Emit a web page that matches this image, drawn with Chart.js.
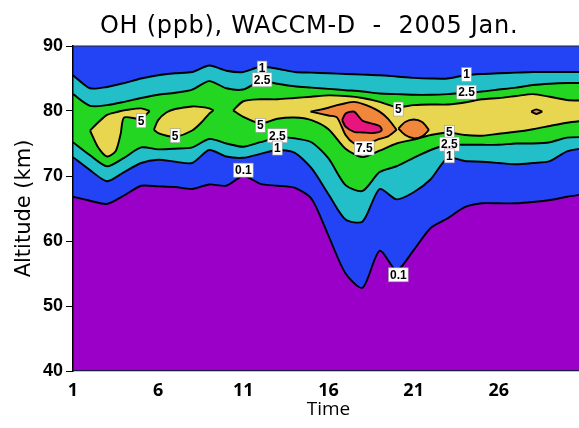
<!DOCTYPE html>
<html>
<head>
<meta charset="utf-8">
<script src="https://cdn.jsdelivr.net/npm/chart.js"></script>
<style>
html, body { margin: 0; padding: 0; background: #fff; overflow: hidden; }
#wrap { width: 584px; height: 428px; }
</style>
</head>
<body>
<div id="wrap"><canvas id="chart" width="584" height="428"></canvas></div>
<script>
const titleText = "OH (ppb), WACCM-D  -  2005 Jan.";
const timeTicks = [1, 6, 11, 16, 21, 26];

const days = [1,2,3,4,5,6,7,8,9,10,11,12,13,14,15,16,17,18,19,20,21,22,23,24,25,26,27,28,29,30,31];

// 0.1 ppb contour (top of the purple)
const oh01Low = [66.8,66.2,65.7,67.0,68.5,68.4,68.3,68.0,68.7,68.5,70.0,68.8,68.5,68.2,66.5,60.8,55.0,52.8,58.5,55.5,58.6,62.0,63.5,65.2,65.8,65.8,65.8,66.0,66.3,66.8,67.2];
// 1 ppb contours
const oh1Low = [72.9,70.9,69.2,70.6,72.0,72.5,72.2,72.0,74.0,73.0,72.8,73.4,74.0,73.6,71.2,67.2,63.3,63.0,68.0,66.4,67.5,69.5,72.8,72.3,72.2,72.0,71.8,72.0,72.3,73.8,74.3];
const oh1Up = [85.5,83.5,83.7,84.3,85.0,85.5,85.8,86.0,87.0,86.2,86.0,86.8,86.5,86.0,85.9,85.8,85.7,85.6,85.5,85.3,85.1,85.0,85.0,85.5,85.7,85.8,85.9,86.0,86.0,86.0,86.0];
// 2.5 ppb contours
const oh25Low = [75.2,73.2,71.5,72.8,74.4,74.1,74.2,74.4,75.7,75.0,74.5,75.2,75.9,75.8,75.2,72.7,68.6,67.7,70.6,71.5,72.8,74.0,74.8,74.8,74.8,74.8,75.0,75.0,75.2,75.9,76.0];
const oh25Up = [82.6,80.8,80.9,81.4,82.0,82.5,82.8,83.3,84.6,83.5,83.3,84.6,84.2,83.8,83.6,83.4,83.2,83.0,82.7,82.6,82.5,82.5,82.6,82.8,83.0,83.3,83.6,84.0,84.2,84.3,84.3];

// 5 ppb contours
const isl1Day = [2.0,2.5,3,3.5,3.8,4,5,5.5];
const isl1Low = [77.0,74.3,73.0,73.8,76.5,79.0,78.8,80.0];
const isl1Up = [77.0,78.3,79.4,79.8,80.0,80.1,80.4,80.0];

const isl2Day = [5.75,6,6.5,7,8,8.6,9,9.25];
const isl2Low = [77.1,76.6,76.2,76.0,77.0,78.4,79.6,80.1];
const isl2Up = [77.1,78.6,79.8,80.3,80.7,80.6,80.4,80.1];

const band5Day = [10.4,11,12,13,14,15,16,17,18,19,20,21,22,23,24,25,26,27,28,29,30,31];
const band5Low = [80.1,79.1,78.1,78.8,79.0,78.6,77.2,74.2,72.9,73.9,75.0,75.6,76.3,76.7,76.3,76.2,76.5,76.8,77.2,77.7,78.2,78.5];
const band5Up = [80.1,81.5,81.8,81.8,82.0,82.2,82.4,82.3,82.0,81.4,80.6,80.9,81.0,81.0,81.3,81.8,82.0,82.3,82.6,82.2,81.7,81.6];

// 7.5 ppb contours
const or1Day = [14.95,15.5,16,16.5,17,17.5,18,18.5,19,19.5,20];
const or1Low = [79.9,79.6,79.3,79.0,76.3,75.0,74.8,75.2,75.7,76.1,77.1];
const or1Up = [79.9,80.2,80.5,80.9,81.2,81.4,81.1,80.6,79.9,78.8,77.1];

const or2Day = [20.1,20.5,21,21.5,21.9];
const or2Low = [77.3,76.3,75.8,76.1,77.1];
const or2Up = [77.3,78.3,78.7,78.3,77.1];

const or3Day = [27.9,28.2,28.55];
const or3Low = [79.9,79.55,79.9];
const or3Up = [79.9,80.25,79.9];

// 10 ppb contour
const redDay = [16.8,17,17.5,18,18.5,19,19.15];
const redLow = [78.6,77.6,76.8,76.7,76.6,76.8,77.1];
const redUp = [78.6,79.6,79.9,78.5,78.1,77.7,77.1];

// contour labels: text, day, altitude
const labelText = ["1","2.5","5","5","5","2.5","1","0.1","5","7.5","5","2.5","1","1","2.5","0.1"];
const labelDay = [12.1,12.1,5.0,7.0,12.0,13.0,13.0,11.0,20.1,18.1,23.1,23.1,23.1,24.1,24.1,20.1];
const labelAlt = [86.6,84.8,78.5,76.2,77.8,76.2,74.3,70.9,80.3,74.3,76.7,74.9,73.1,85.6,82.9,54.8];

const colors = {
  purple: "#9a00c8",
  blue: "#2244f5",
  cyan: "#22bfc8",
  green: "#22d622",
  yellow: "#e8d650",
  orange: "#f0873a",
  red: "#e8157e"
};

function pts(xs, ys){
  return xs.map((x, i) => ({ x: x, y: ys[i] }));
}

function line(xs, ys, fill, color){
  return {
    data: pts(xs, ys),
    borderColor: "#000",
    borderWidth: 1.9,
    pointRadius: 0,
    tension: 0.25,
    fill: fill,
    backgroundColor: color || "transparent"
  };
}

function band(xs, lo, hi, color){
  return [line(xs, lo, "+1", color), line(xs, hi, false)];
}

// first dataset is painted on top
const datasets = [
  ...band(redDay, redLow, redUp, colors.red),
  ...band(or1Day, or1Low, or1Up, colors.orange),
  ...band(or2Day, or2Low, or2Up, colors.orange),
  ...band(or3Day, or3Low, or3Up, colors.orange),
  ...band(isl1Day, isl1Low, isl1Up, colors.yellow),
  ...band(isl2Day, isl2Low, isl2Up, colors.yellow),
  ...band(band5Day, band5Low, band5Up, colors.yellow),
  ...band(days, oh25Low, oh25Up, colors.green),
  ...band(days, oh1Low, oh1Up, colors.cyan),
  line(days, oh01Low, "start", colors.purple)
];

const backdrop = {
  id: "backdrop",
  beforeDraw(chart){
    const a = chart.chartArea, ctx = chart.ctx;
    ctx.save();
    ctx.fillStyle = colors.blue;
    ctx.fillRect(a.left, a.top, a.right - a.left, a.bottom - a.top);
    ctx.restore();
  },
  afterDraw(chart){
    const a = chart.chartArea, ctx = chart.ctx;
    ctx.save();
    ctx.strokeStyle = "#222";
    ctx.lineWidth = 1.2;
    ctx.beginPath();
    ctx.moveTo(a.left, a.top);
    ctx.lineTo(a.right, a.top);
    ctx.stroke();
    ctx.font = "24px 'DejaVu Sans'";
    ctx.fillStyle = "#000";
    ctx.textBaseline = "alphabetic";
    ctx.textAlign = "left";
    ctx.letterSpacing = "0.7px";
    ctx.fillText(titleText, 100, 33);
    ctx.restore();
  }
};

const contourLabels = {
  id: "contourLabels",
  afterDatasetsDraw(chart){
    const ctx = chart.ctx;
    const xs = chart.scales.x, ys = chart.scales.y;
    ctx.save();
    ctx.font = "bold 12px 'Liberation Sans'";
    ctx.textAlign = "center";
    ctx.textBaseline = "middle";
    labelText.forEach((t, i) => {
      const px = xs.getPixelForValue(labelDay[i]);
      const py = ys.getPixelForValue(labelAlt[i]);
      const w = ctx.measureText(t).width + 3;
      ctx.fillStyle = "#fff";
      ctx.fillRect(px - w / 2, py - 7, w, 14);
      ctx.strokeStyle = "#999";
      ctx.lineWidth = 0.6;
      ctx.strokeRect(px - w / 2, py - 7, w, 14);
      ctx.fillStyle = "#000";
      ctx.fillText(t, px, py + 0.5);
    });
    ctx.restore();
  }
};

new Chart(document.getElementById("chart"), {
  type: "line",
  data: { datasets: datasets },
  plugins: [backdrop, contourLabels],
  options: {
    responsive: false,
    animation: false,
    layout: { padding: { top: 46, left: 0, right: 0, bottom: 0 } },
    plugins: {
      legend: { display: false },
      tooltip: { enabled: false },
      filler: { propagate: false, drawTime: "beforeDatasetsDraw" }
    },
    scales: {
      x: {
        type: "linear",
        min: 1,
        max: 31,
        afterBuildTicks(scale){
          scale.ticks = timeTicks.map(v => ({ value: v }));
        },
        afterFit(scale){ scale.height = 57; },
        grid: { drawOnChartArea: false, drawTicks: false, z: 1 },
        border: { display: true, color: "#1a1a40", width: 1.2, z: 1 },
        ticks: {
          color: "#000",
          padding: 9,
          font: { family: "'Open Sans'", size: 18, weight: "bold" }
        },
        title: {
          display: true,
          text: "Time",
          color: "#000",
          padding: { top: 0, bottom: 7 },
          font: { family: "'Open Sans'", size: 19 }
        }
      },
      y: {
        min: 40,
        max: 90,
        afterFit(scale){ scale.width = 73; },
        grid: { drawOnChartArea: false, drawTicks: true, tickLength: 7, color: "#000", z: 1 },
        border: { display: true, color: "#000", width: 1.5, z: 1 },
        ticks: {
          stepSize: 10,
          color: "#000",
          padding: 3,
          font: { family: "'Liberation Sans'", size: 18, weight: "bold" }
        },
        title: {
          display: true,
          text: "Altitude (km)",
          color: "#000",
          padding: { top: 12, bottom: 0 },
          font: { family: "'DejaVu Sans'", size: 21 }
        }
      }
    }
  }
});
</script>
</body>
</html>
